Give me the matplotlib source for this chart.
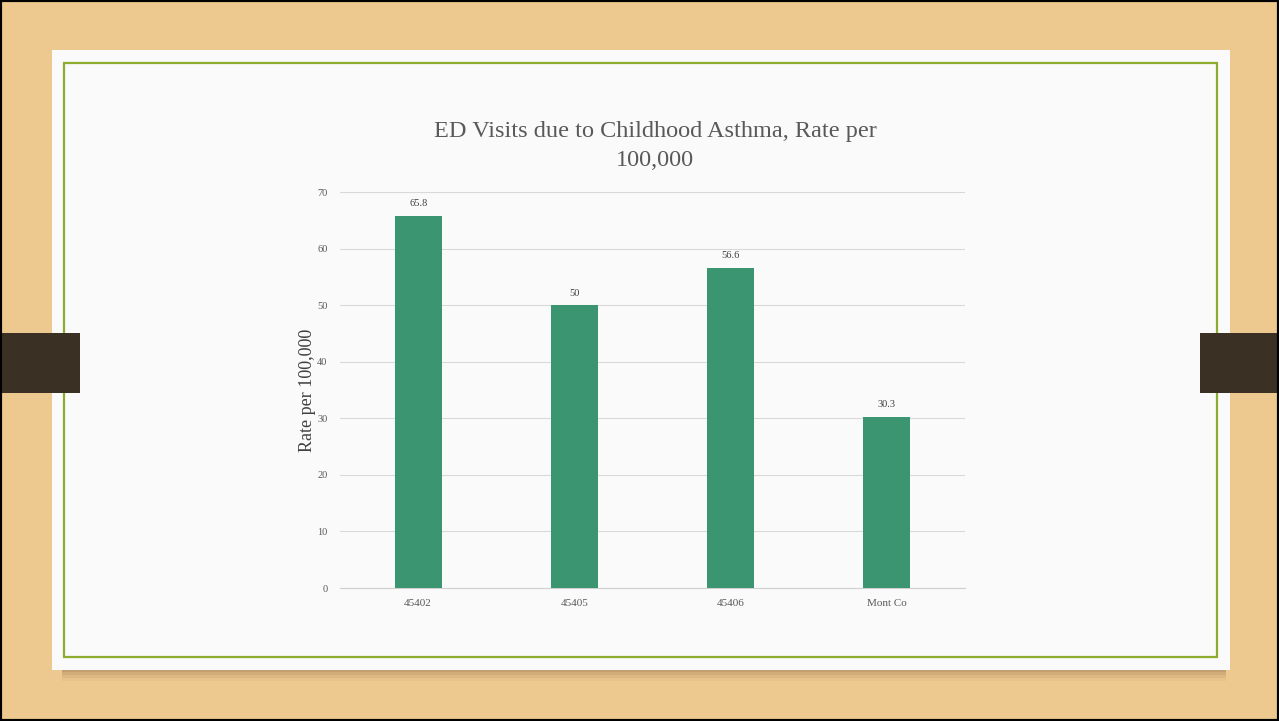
import matplotlib.pyplot as plt
from matplotlib.patches import Rectangle
import numpy as np

# chart data
categories = ['45402', '45405', '45406', 'Mont Co']
rates = [65.8, 50, 56.6, 30.3]
rate_labels = ['65.8', '50', '56.6', '30.3']
yticks = [0, 10, 20, 30, 40, 50, 60, 70]

plt.rcParams['font.family'] = ['Liberation Serif', 'DejaVu Serif']

fig = plt.figure(figsize=(12.79, 7.21), dpi=100)
W, H = 1279, 721

def px_rect(x0, y0, x1, y1, **kw):
    # rectangle in pixel coords (top-left origin)
    r = Rectangle((x0 / W, 1 - y1 / H), (x1 - x0) / W, (y1 - y0) / H,
                  transform=fig.transFigure, **kw)
    fig.patches.append(r)

# wooden backdrop
px_rect(0, 0, W, H, facecolor='#edc88f', edgecolor='none', zorder=0)
# soft shadow below the card
for i, a in enumerate([0.25, 0.18, 0.12, 0.07]):
    px_rect(62, 668, 1226, 672 + 3 * i, facecolor='#9c7a4e', edgecolor='none', zorder=1, alpha=a)
px_rect(52, 50, 1230, 670, facecolor='#fafafa', edgecolor='none', zorder=2)
# green frame
px_rect(64, 63, 1217, 657, facecolor='none', edgecolor='#8cab2f', linewidth=1.6, zorder=3)
# side clips
px_rect(2, 333, 80, 393, facecolor='#3b3024', edgecolor='none', zorder=4)
px_rect(1200, 333, 1277, 393, facecolor='#3b3024', edgecolor='none', zorder=4)
# outer black border
px_rect(0, 0, W, H, facecolor='none', edgecolor='black', linewidth=3, zorder=5)

ax = fig.add_axes([340 / W, 1 - 588 / H, 625 / W, 396 / H], zorder=6)
ax.set_facecolor('none')

x = np.arange(len(categories))
bars = ax.bar(x, rates, width=0.3, color='#3a9570', zorder=3)
for xi, v, lab in zip(x, rates, rate_labels):
    ax.text(xi, v + 1.3, lab, ha='center', va='bottom', fontsize=7.5, color='#404040')

ax.set_xlim(-0.5, len(categories) - 0.5)
ax.set_ylim(0, 70)
ax.set_yticks(yticks)
ax.set_yticklabels([str(t) for t in yticks], fontsize=7.5, color='#595959')
ax.set_xticks(x)
ax.set_xticklabels(categories, fontsize=8, color='#595959')
ax.tick_params(length=0, pad=9)
ax.tick_params(axis='x', pad=8)
ax.grid(axis='y', color='#d9d9d9', linewidth=0.8, zorder=0)
for s in ['top', 'right', 'left']:
    ax.spines[s].set_visible(False)
ax.spines['bottom'].set_color('#d0d0d0')

ax.set_ylabel('Rate per 100,000', fontsize=13, color='#404040', labelpad=1)

fig.text(655 / W, 1 - 146 / H, 'ED Visits due to Childhood Asthma, Rate per\n100,000',
         ha='center', va='center', fontsize=17.5, color='#595959', linespacing=1.45)

fig.savefig('out.png', dpi=100)
